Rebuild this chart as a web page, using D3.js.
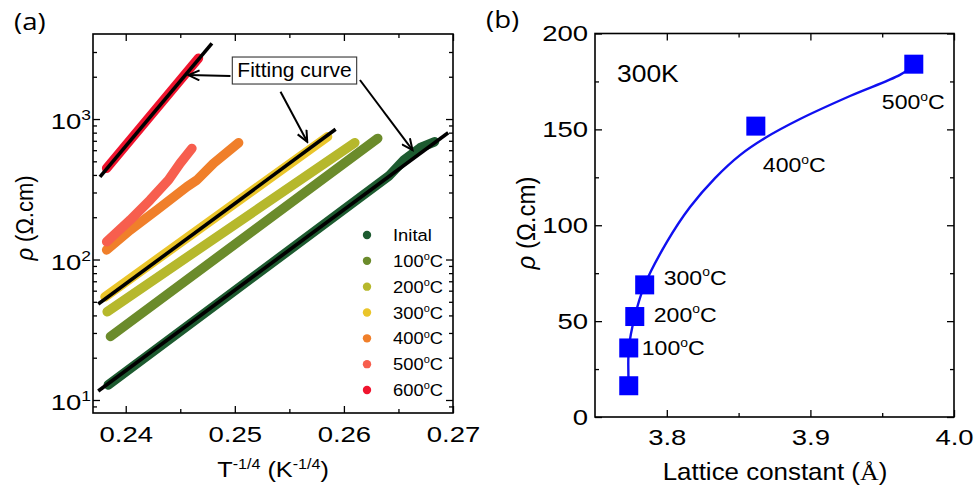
<!DOCTYPE html>
<html>
<head>
<meta charset="utf-8">
<script src="https://cdn.jsdelivr.net/npm/d3@7"></script>
<style>
  body { margin: 0; background: #fff; }
  svg text { font-family: "Liberation Sans", Arial, sans-serif; fill: #000; }
</style>
</head>
<body>
<svg id="chart" width="974" height="491"></svg>
<script>
// ---------- panel (a): rho vs T^-1/4 (semilog) ----------
const anneal_names = ["Inital", "100", "200", "300", "400", "500", "600"];
const rho_initial = [[0.2384, 12.8], [0.2641, 392], [0.2655, 510], [0.2670, 625], [0.2683, 689]];
const rho_100 = [[0.2386, 28.3], [0.2631, 728]];
const rho_200 = [[0.2383, 42.5], [0.2610, 678]];
const rho_300 = [[0.2381, 54.3], [0.2585, 748]];
const rho_400 = [[0.23825, 117], [0.2404, 162], [0.24285, 225], [0.24561, 330], [0.24653, 368], [0.24805, 484], [0.25035, 678]];
const rho_500 = [[0.23825, 134], [0.2404, 191], [0.24223, 265], [0.24392, 368], [0.24499, 484], [0.24607, 618]];
const rho_600 = [[0.23825, 446], [0.24667, 2706]];
const fit_initial = [[0.23748, 11.6], [0.26956, 798]];
const fit_300 = [[0.23748, 48.2], [0.25924, 845]];
const fit_600 = [[0.23764, 388], [0.2479, 3460]];
// arrows of the "Fitting curve" note, in data units
const arrow_from = [[0.2496, 2021], [0.25419, 1563], [0.26147, 1896]];
const arrow_to = [[0.24575, 2055], [0.25664, 689], [0.26629, 601]];
const note_at = [0.25547, 1991];

const xa_ticks = [0.24, 0.25, 0.26, 0.27];
const xa_minor = [0.245, 0.255, 0.265];
const ya_ticks = [10, 100, 1000];
const ya_minor = [9, 20, 30, 40, 50, 60, 70, 80, 90, 200, 300, 400, 500, 600, 700, 800, 900, 2000, 3000];

// ---------- panel (b): rho(300K) vs lattice constant ----------
const lattice = [3.7735, 3.7735, 3.7777, 3.7846, 3.862, 3.972];
const rho_300K = [16.3, 36, 52.4, 68.9, 151.7, 184];
const point_names = ["", "100", "200", "300", "400", "500"];
const fit_lattice = [3.7735, 3.7736, 3.7777, 3.7846, 3.8001, 3.8162, 3.8336, 3.8510, 3.8684, 3.8928, 3.9276, 3.9624, 3.9715];
const fit_rho = [16.3, 36, 52.4, 68.9, 91.3, 109.5, 124.6, 136.6, 145.5, 155.4, 167.4, 178.4, 183];

const xb_ticks = [3.8, 3.9, 4.0];
const xb_minor = [3.85, 3.95];
const yb_ticks = [0, 50, 100, 150, 200];
const yb_minor = [25, 75, 125, 175];

// styles
const band_colors = ["#1d5b30", "#6b8b2b", "#b6b82c", "#eac52a", "#f07f2a", "#f75e4e", "#f0142e"];
const point_label_offset = [[0, 0], [13, 7], [19, 5], [19, 0], [7, 46], [-32, 45]];

const svg = d3.select("#chart");

// text that is a bit wider than normal, like the reference
function add_text(g, x, y, sx, size) {
  return g.append("text")
    .attr("transform", `translate(${x},${y}) scale(${sx},1)`)
    .attr("font-size", size);
}

function stretch_ticks(axis_g, sx, size) {
  axis_g.attr("font-size", size).attr("font-family", null);
  axis_g.selectAll("text").each(function () {
    const t = d3.select(this);
    const x = +t.attr("x") || 0, y = +t.attr("y") || 0;
    t.attr("x", 0).attr("y", 0).attr("transform", `translate(${x},${y}) scale(${sx},1)`);
  });
}

function add_deg(t, num, size) {
  t.append("tspan").text(num);
  t.append("tspan").attr("font-size", size * 0.6).attr("dy", -size * 0.4).text("o");
  t.append("tspan").attr("dy", size * 0.4).text("C");
}

function frame_axes(g, x, y, opt) {
  const [x0, x1] = x.range(), [y0, y1] = y.range();
  const bare = (a) => a.call(s => s.select(".domain").remove());
  // major + minor, inside ticks on all four sides
  const sides = [
    [d3.axisBottom, x, `translate(0,${y0})`, opt.xt, opt.xm],
    [d3.axisTop, x, `translate(0,${y1})`, opt.xt, opt.xm],
    [d3.axisLeft, y, `translate(${x0},0)`, opt.yt, opt.ym],
    [d3.axisRight, y, `translate(${x1},0)`, opt.yt, opt.ym]
  ];
  sides.forEach(([ax, sc, tr, major, minor]) => {
    g.append("g").attr("transform", tr)
      .call(ax(sc).tickValues(major).tickSize(-7).tickFormat(""))
      .call(bare);
    g.append("g").attr("transform", tr)
      .call(ax(sc).tickValues(minor).tickSize(-4).tickFormat(""))
      .call(bare);
  });
  g.selectAll(".tick line").attr("stroke-width", 1.3);
  g.append("rect")
    .attr("x", x0).attr("y", y1)
    .attr("width", x1 - x0).attr("height", y0 - y1)
    .attr("fill", "none").attr("stroke", "#000").attr("stroke-width", 1.6);
}

// ================= panel (a) =================
const xa = d3.scaleLinear().domain([0.237, 0.27]).range([93, 453]);
const ya = d3.scaleLog().domain([8.08, 4030]).range([413, 34]);
const ga = svg.append("g");

const band_line = d3.line().x(d => xa(d[0])).y(d => ya(d[1]));
const bands = [rho_initial, rho_100, rho_200, rho_300, rho_400, rho_500, rho_600];
bands.forEach((b, i) => {
  ga.append("path")
    .attr("d", band_line(b))
    .attr("fill", "none")
    .attr("stroke", band_colors[i])
    .attr("stroke-width", 9.5)
    .attr("stroke-linecap", "round")
    .attr("stroke-linejoin", "round");
});
[fit_initial, fit_300, fit_600].forEach(f => {
  ga.append("path")
    .attr("d", band_line(f))
    .attr("fill", "none")
    .attr("stroke", "#000")
    .attr("stroke-width", 3.6);
});

frame_axes(ga, xa, ya, { xt: xa_ticks, xm: xa_minor, yt: ya_ticks, ym: ya_minor });

// tick labels
ga.append("g").attr("transform", `translate(0,${ya.range()[0]})`)
  .call(d3.axisBottom(xa).tickValues(xa_ticks).tickSize(0).tickPadding(13).tickFormat(d3.format(".2f")))
  .call(s => s.select(".domain").remove())
  .call(s => stretch_ticks(s, 1.25, 22));

ga.append("g").attr("transform", `translate(${xa.range()[0]},0)`)
  .call(d3.axisLeft(ya).tickValues(ya_ticks).tickSize(0).tickPadding(2).tickFormat(""))
  .call(s => s.select(".domain").remove())
  .call(s => {
    s.selectAll("text").attr("dy", "0.45em").each(function (d) {
      const t = d3.select(this);
      t.append("tspan").text("10");
      t.append("tspan").attr("font-size", 14).attr("dy", -9).text(Math.round(Math.log10(d)));
    });
  })
  .call(s => stretch_ticks(s, 1.25, 22));

// legend
const ly = d3.scaleLinear().domain([0, anneal_names.length - 1]).range([235, 390]);
anneal_names.forEach((n, i) => {
  ga.append("circle").attr("cx", 367).attr("cy", ly(i)).attr("r", 4.2).attr("fill", band_colors[i]);
  const t = add_text(ga, 393, ly(i) + 6, 1.08, 17);
  if (i === 0) t.text(n); else add_deg(t, n, 17);
});

// "Fitting curve" note with arrows
const defs = svg.append("defs");
defs.append("marker")
  .attr("id", "vhead")
  .attr("viewBox", "-12 -6 14 12")
  .attr("refX", 0).attr("refY", 0)
  .attr("markerWidth", 14).attr("markerHeight", 12)
  .attr("markerUnits", "userSpaceOnUse")
  .attr("orient", "auto")
  .append("path")
  .attr("d", "M-11,-5 L0,0 L-11,5")
  .attr("fill", "none").attr("stroke", "#000").attr("stroke-width", 2);

arrow_from.forEach((p, i) => {
  ga.append("line")
    .attr("x1", xa(p[0])).attr("y1", ya(p[1]))
    .attr("x2", xa(arrow_to[i][0])).attr("y2", ya(arrow_to[i][1]))
    .attr("stroke", "#000").attr("stroke-width", 2)
    .attr("marker-end", "url(#vhead)");
});

const note = add_text(ga, xa(note_at[0]), ya(note_at[1]), 1, 21)
  .attr("text-anchor", "middle").text("Fitting curve");
const nb = note.node().getBBox();
ga.append("rect")
  .attr("x", xa(note_at[0]) + nb.x - 5).attr("y", ya(note_at[1]) + nb.y - 1)
  .attr("width", nb.width + 10).attr("height", nb.height + 4)
  .attr("fill", "#fff").attr("stroke", "#333").attr("stroke-width", 1.1);
note.raise();

// axis titles
const xt_a = add_text(ga, 273, 477, 1.15, 22).attr("text-anchor", "middle");
xt_a.append("tspan").text("T");
xt_a.append("tspan").attr("font-size", 14).attr("dy", -8).text("-1/4");
xt_a.append("tspan").attr("dy", 8).text(" (K");
xt_a.append("tspan").attr("font-size", 14).attr("dy", -8).text("-1/4");
xt_a.append("tspan").attr("dy", 8).text(")");

const yt_a = ga.append("text")
  .attr("transform", "translate(33,218) scale(1.1,1) rotate(-90)")
  .attr("text-anchor", "middle").attr("font-size", 22);
yt_a.append("tspan").attr("font-style", "italic").text("ρ");
yt_a.append("tspan").text(" (Ω.cm)");

add_text(svg, 14, 30, 1.15, 24).style("font-family", "'Open Sans', sans-serif").text("(a)");

// ================= panel (b) =================
const xb = d3.scaleLinear().domain([3.75, 4.0]).range([595, 954]);
const yb = d3.scaleLinear().domain([0, 200]).range([417, 33.5]);
const gb = svg.append("g");

frame_axes(gb, xb, yb, { xt: xb_ticks, xm: xb_minor, yt: yb_ticks, ym: yb_minor });

gb.append("g").attr("transform", `translate(0,${yb.range()[0]})`)
  .call(d3.axisBottom(xb).tickValues(xb_ticks).tickSize(0).tickPadding(12).tickFormat(d3.format(".1f")))
  .call(s => s.select(".domain").remove())
  .call(s => stretch_ticks(s, 1.25, 22));

gb.append("g").attr("transform", `translate(${xb.range()[0]},0)`)
  .call(d3.axisLeft(yb).tickValues(yb_ticks).tickSize(0).tickPadding(7).tickFormat(d3.format("d")))
  .call(s => s.select(".domain").remove())
  .call(s => stretch_ticks(s, 1.25, 22));

const fit_pts = fit_lattice.map((x, i) => [x, fit_rho[i]]);
gb.append("path")
  .attr("d", d3.line().x(d => xb(d[0])).y(d => yb(d[1])).curve(d3.curveCatmullRom.alpha(0.5))(fit_pts))
  .attr("fill", "none").attr("stroke", "#1010f0").attr("stroke-width", 2.4);

const sq = 19;
gb.selectAll("rect.pt")
  .data(lattice.map((x, i) => [x, rho_300K[i]]))
  .join("rect")
  .attr("class", "pt")
  .attr("x", d => xb(d[0]) - sq / 2).attr("y", d => yb(d[1]) - sq / 2)
  .attr("width", sq).attr("height", sq)
  .attr("fill", "#0000ff");

point_names.forEach((n, i) => {
  if (!n) return;
  const t = add_text(gb, xb(lattice[i]) + point_label_offset[i][0], yb(rho_300K[i]) + point_label_offset[i][1], 1.1, 21);
  add_deg(t, n, 21);
});

add_text(gb, 617, 82, 1.15, 23).text("300K");

const xt_b = add_text(gb, 775, 480, 1.08, 24).attr("text-anchor", "middle");
xt_b.append("tspan").text("Lattice constant (");
xt_b.append("tspan").style("font-family", "'Liberation Serif', serif").text("Å");
xt_b.append("tspan").text(")");

const yt_b = gb.append("text")
  .attr("transform", "translate(535,223) scale(1.1,1) rotate(-90)")
  .attr("text-anchor", "middle").attr("font-size", 24);
yt_b.append("tspan").attr("font-style", "italic").text("ρ");
yt_b.append("tspan").text(" (Ω.cm)");

add_text(svg, 486, 28, 1.15, 24).style("font-family", "'Open Sans', sans-serif").text("(b)");
</script>
</body>
</html>
